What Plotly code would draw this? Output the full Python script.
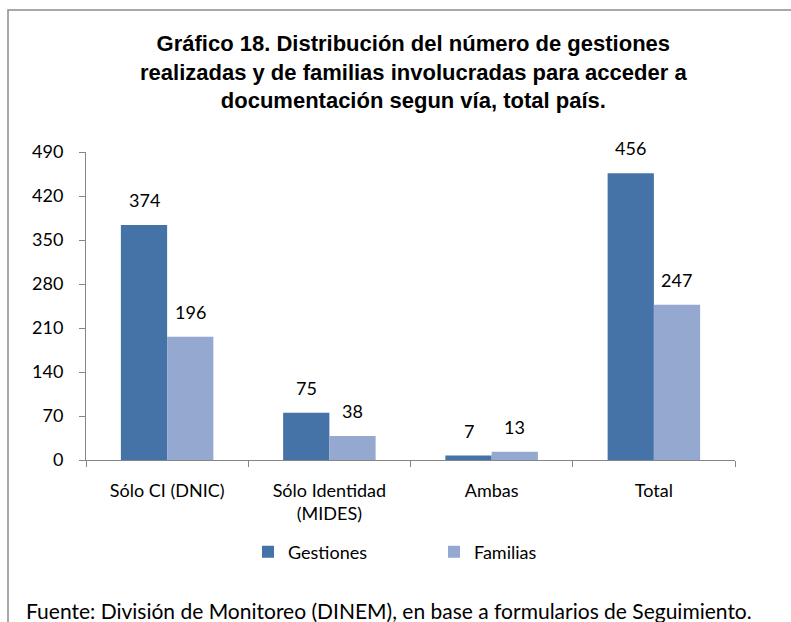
import plotly.graph_objects as go

categories = ["Sólo CI (DNIC)", "Sólo Identidad<br>(MIDES)", "Ambas", "Total"]
gestiones = [374, 75, 7, 456]
familias = [196, 38, 13, 247]
y_ticks = [0, 70, 140, 210, 280, 350, 420, 490]

W, H = 791, 622
L, R, T, B = 86, 735, 152, 460  # plot area in pixels


def px(x):
    return (x - L) / (R - L)


def py(y):
    return (B - y) / (B - T)


label_font = dict(family="Lato, Carlito, Calibri, sans-serif", size=18, color="#000000")

fig = go.Figure()
fig.add_trace(go.Bar(x=categories, y=gestiones, name="Gestiones",
                     marker=dict(color="#4572A7", line=dict(width=0))))
fig.add_trace(go.Bar(x=categories, y=familias, name="Familias",
                     marker=dict(color="#95A8D0", line=dict(width=0))))

# value labels, sitting a bit higher above the bars than plotly's own outside text
for series, shift in ((gestiones, -23), (familias, 23)):
    for cat, v in zip(categories, series):
        fig.add_annotation(x=cat, y=v, text=str(v), showarrow=False,
                           xshift=shift, yanchor="bottom", yshift=12, font=label_font)

fig.update_layout(
    width=W, height=H, autosize=False,
    margin=dict(l=L, r=W - R, t=T, b=H - B, pad=0),
    paper_bgcolor="white", plot_bgcolor="white",
    barmode="group", bargap=0.43, bargroupgap=0,
    font=label_font,
    legend=dict(orientation="h", x=px(248), xanchor="left", y=py(552), yanchor="middle",
                font=dict(size=18), entrywidth=141, itemwidth=30, traceorder="normal"),
    showlegend=True,
)

fig.add_annotation(text="<b>Gráfico 18. Distribución del número de gestiones<br>"
                        "realizadas y de familias involucradas para acceder a<br>"
                        "documentación segun vía, total país.</b>",
                   xref="paper", yref="paper", x=px(413), y=py(72),
                   xanchor="center", yanchor="middle", showarrow=False,
                   font=dict(family="Liberation Sans, Arial, sans-serif",
                             size=22, color="#000000"))

fig.update_xaxes(showline=True, linecolor="#868686", linewidth=1,
                 ticks="outside", tickson="boundaries", ticklen=6, tickcolor="#868686",
                 showgrid=False, tickfont=label_font, ticklabelstandoff=14)
fig.update_yaxes(range=[0, 490], tickvals=y_ticks, showline=True, linecolor="#868686",
                 linewidth=1, ticks="outside", ticklen=6, tickcolor="#868686",
                 showgrid=False, zeroline=False, tickfont=label_font, ticklabelstandoff=12)

fig.add_annotation(text="Fuente: División de Monitoreo (DINEM), en base a formularios de Seguimiento.",
                   xref="paper", yref="paper", x=px(24), y=py(610),
                   xanchor="left", yanchor="middle", showarrow=False,
                   font=dict(size=21, color="#000000"))

fig.add_shape(type="rect", xref="paper", yref="paper",
              x0=px(8), x1=px(800), y0=py(640), y1=py(10),
              line=dict(color="#8c8c8c", width=1.5), fillcolor="rgba(0,0,0,0)", layer="below")

fig.write_html("out.html", config={"displayModeBar": False},
               post_script="document.body.style.margin='0';")
